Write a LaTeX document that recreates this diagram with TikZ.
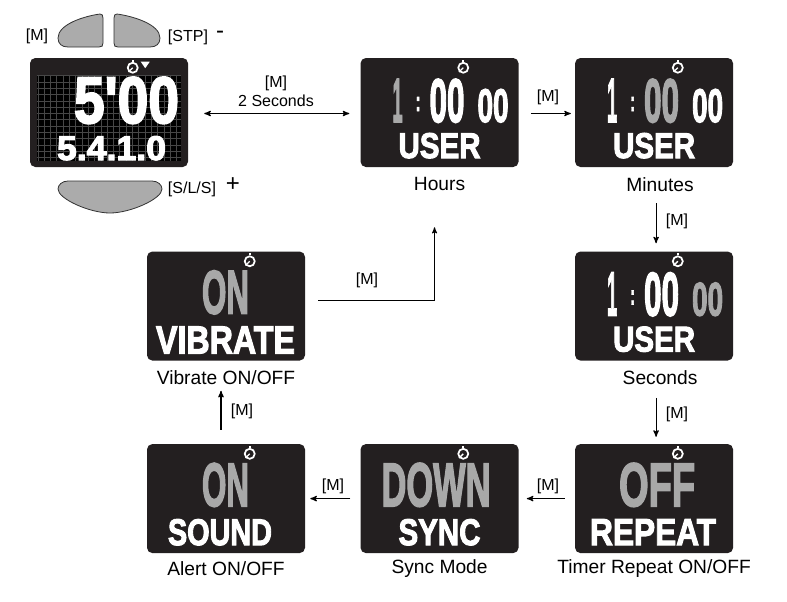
\documentclass[tikz,border=0pt]{standalone}
\usepackage{fontspec}
\setmainfont{Liberation Sans}
\newfontfamily\lcdfont[BoldFeatures={FakeBold=3}]{Liberation Sans}
\usetikzlibrary{arrows}
\usetikzlibrary{positioning}

\definecolor{lcdbody}{HTML}{231F20}
\definecolor{lcdgray}{HTML}{A8A8A8}
\definecolor{buttongray}{HTML}{ABABAB}
\newdimen\lcdpx
\lcdpx=.75pt

% stretch one piece of display text to its box, less what the fake bold adds
\newcommand{\lcdsize}[3]{\resizebox{\dimexpr#1\lcdpx-4\lcdpx}{\dimexpr#2\lcdpx-4\lcdpx}{#3}}

% the clock shown on the three USER screens
\newcommand{\userclock}[4]{
  \node[#2] (#1 hour) at ([shift={(30,19)}]#1.north west) {\lcdsize{14}{47}{1}};
  \node[lcd white] (#1 colon) at ([shift={(53,37)}]#1.north west) {\lcdsize{9}{18}{:}};
  \node[#3] (#1 minute) at ([shift={(67,19)}]#1.north west) {\lcdsize{39}{47}{00}};
  \node[#4] (#1 second) at ([shift={(115,29)}]#1.north west) {\lcdsize{35}{37}{00}};
  \node[lcd white] (#1 user) at ([shift={(36,73)}]#1.north west) {\lcdsize{86}{29}{USER}};
}

\tikzset{
  lcd node/.style={rectangle,fill=lcdbody,rounded corners=4pt,minimum width=158\lcdpx,
    minimum height=109\lcdpx,inner sep=0pt},
  lcd white/.style={anchor=north west,inner sep=0pt,xshift=1.5pt,yshift=-1.5pt,text=white,font=\lcdfont\bfseries},
  lcd gray/.style={lcd white,text=lcdgray},
  caption node/.style={font=\fontsize{14.4pt}{16pt}\selectfont,inner sep=0pt},
  key node/.style={font=\fontsize{12pt}{14pt}\selectfont,inner sep=0pt},
  sign node/.style={font=\fontsize{18pt}{20pt}\selectfont,inner sep=0pt},
  button/.style={fill=buttongray,draw=black!80,line width=.6pt},
  watch/.style={circle,draw=white,fill=lcdbody,line width=1.3pt,minimum size=10\lcdpx,inner sep=0pt},
  step arrow/.style={->,>=stealth',line width=.8pt},
}

\begin{document}
\begin{tikzpicture}[x=.75pt,y=-.75pt]
  \useasboundingbox (0,0) rectangle (787,601);

  \node[lcd node] (main) at (109,112.5) {};
  \node[lcd node] (hours) [right=172\lcdpx of main] {};
  \node[lcd node] (minutes) [right=56\lcdpx of hours] {};
  \node[lcd node] (seconds) [below=84\lcdpx of minutes] {};
  \node[lcd node] (repeat) [below=83\lcdpx of seconds] {};
  \node[lcd node] (sync) [left=56\lcdpx of repeat] {};
  \node[lcd node] (alert) [left=55\lcdpx of sync] {};
  \node[lcd node] (vibrate) [above=83\lcdpx of alert] {};

  % dot grid behind the main screen
  \fill[black] ([shift={(7,17)}]main.north west) rectangle ([shift={(151,103)}]main.north west);
  \draw[black!72,line width=.35pt,xstep=6.3\lcdpx,ystep=6.3\lcdpx]
    ([shift={(7,17)}]main.north west) grid ([shift={(151,103)}]main.north west);

  \node[lcd white] (maintime) at ([shift={(42,17)}]main.north west) {\lcdsize{109}{50}{5'00}};
  \node[lcd white] (mainlaps) at ([shift={(25,76)}]main.north west) {\lcdsize{113}{28}{5.4.1.0}};

  \userclock{hours}{lcd gray}{lcd white}{lcd white}
  \userclock{minutes}{lcd white}{lcd gray}{lcd white}
  \userclock{seconds}{lcd white}{lcd white}{lcd gray}

  \node[lcd gray] (offvalue) at ([shift={(42,17)}]repeat.north west) {\lcdsize{80}{47}{OFF}};
  \node[lcd white] (repeatword) at ([shift={(13,73)}]repeat.north west) {\lcdsize{130}{30}{REPEAT}};
  \node[lcd gray] (downvalue) at ([shift={(19,17)}]sync.north west) {\lcdsize{113}{47}{DOWN}};
  \node[lcd white] (syncword) at ([shift={(36,73)}]sync.north west) {\lcdsize{86}{30}{SYNC}};
  \node[lcd gray] (soundvalue) at ([shift={(53,17)}]alert.north west) {\lcdsize{51}{47}{ON}};
  \node[lcd white] (soundword) at ([shift={(19,73)}]alert.north west) {\lcdsize{108}{30}{SOUND}};
  \node[lcd gray] (vibratevalue) at ([shift={(53,17)}]vibrate.north west) {\lcdsize{51}{47}{ON}};
  \node[lcd white] (vibrateword) at ([shift={(7,73)}]vibrate.north west) {\lcdsize{143}{31}{VIBRATE}};

  % stopwatch icons
  \foreach \disp in {main,hours,minutes,seconds,vibrate,alert,sync,repeat} {
    \node[watch] (\disp watch) at ([shift={(103,10)}]\disp.north west) {};
    \draw[white,line width=1pt] (\disp watch.center) -- (\disp watch.south west);
    \draw[white,line width=1.4pt] (\disp watch.north) -- ++(0,-2);
  }
  \fill[white] ([shift={(111,4)}]main.north west) -- ++(9,0) -- ++(-4.5,6.5) -- cycle;

  % buttons
  \draw[button] (100,14) .. controls (85,16) and (58,24) .. (58,38)
    .. controls (58,44) and (62,47) .. (68,47) -- (99,47)
    .. controls (102,47) and (103,46) .. (103,43) -- (103,18)
    .. controls (103,15) and (102,14) .. (100,14) -- cycle;
  \draw[button] (117,14) .. controls (132,16) and (160,24) .. (160,38)
    .. controls (160,44) and (156,47) .. (150,47) -- (118,47)
    .. controls (115,47) and (114,46) .. (114,43) -- (114,18)
    .. controls (114,15) and (115,14) .. (117,14) -- cycle;
  \draw[button] (68,181) -- (152,181) .. controls (158,181) and (162,185) .. (162,189)
    .. controls (162,199) and (130,213) .. (110,213)
    .. controls (90,213) and (58,199) .. (58,189)
    .. controls (58,185) and (62,181) .. (68,181) -- cycle;

  \node[key node] (keym) at (37,36) {[M]};
  \node[key node] (keystp) at (188,37) {[STP]};
  \node[sign node] (minus) at (220,35) {-};
  \node[key node] (keysls) at (192,189) {[S/L/S]};
  \node[sign node] (plus) at (233,185) {+};

  % captions
  \node[caption node] (hourscap) at ([shift={(0,17)}]hours.south) {Hours};
  \node[caption node] (minutescap) at ([shift={(6,17)}]minutes.south) {Minutes};
  \node[caption node] (secondscap) at ([shift={(6,17)}]seconds.south) {Seconds};
  \node[caption node] (repeatcap) at ([shift={(0,15)}]repeat.south) {Timer Repeat ON/OFF};
  \node[caption node] (synccap) at ([shift={(0,15)}]sync.south) {Sync Mode};
  \node[caption node] (alertcap) at ([shift={(0,15)}]alert.south) {Alert ON/OFF};
  \node[caption node] (vibratecap) at ([shift={(0,17)}]vibrate.south) {Vibrate ON/OFF};

  % connectors
  \draw[step arrow,<->,shorten <=16\lcdpx,shorten >=11\lcdpx] ([shift={(0,1)}]main.east) -- ([shift={(0,1)}]hours.west);
  \draw[step arrow,shorten <=12\lcdpx,shorten >=4\lcdpx] ([shift={(0,1)}]hours.east) -- ([shift={(0,1)}]minutes.west);
  \draw[step arrow,shorten <=36\lcdpx,shorten >=8\lcdpx] ([shift={(2,0)}]minutes.south) -- ([shift={(2,0)}]seconds.north);
  \draw[step arrow,shorten <=37\lcdpx,shorten >=7\lcdpx] ([shift={(2,0)}]seconds.south) -- ([shift={(2,0)}]repeat.north);
  \draw[step arrow,shorten <=10\lcdpx,shorten >=8\lcdpx] (repeat) -- (sync);
  \draw[step arrow,shorten <=10\lcdpx,shorten >=5\lcdpx] (sync) -- (alert);
  \draw[step arrow,shorten <=14\lcdpx,shorten >=30\lcdpx] ([shift={(-5,0)}]alert.north) -- ([shift={(-5,0)}]vibrate.south);
  \draw[step arrow,line width=.7pt] ([shift={(13,-6)}]vibrate.east) -| ([shift={(-5,60)}]hours.south);

  \node[key node,align=center] (holdlabel) at (276,91) {[M]\\2 Seconds};
  \node[key node] (hoursm) at (548,97) {[M]};
  \node[key node] (minutesm) at (677,221) {[M]};
  \node[key node] (secondsm) at (677,414) {[M]};
  \node[key node] (repeatm) at (548,486) {[M]};
  \node[key node] (syncm) at (333,486) {[M]};
  \node[key node] (alertm) at (242,411) {[M]};
  \node[key node] (vibratem) at (367,280) {[M]};
\end{tikzpicture}
\end{document}
